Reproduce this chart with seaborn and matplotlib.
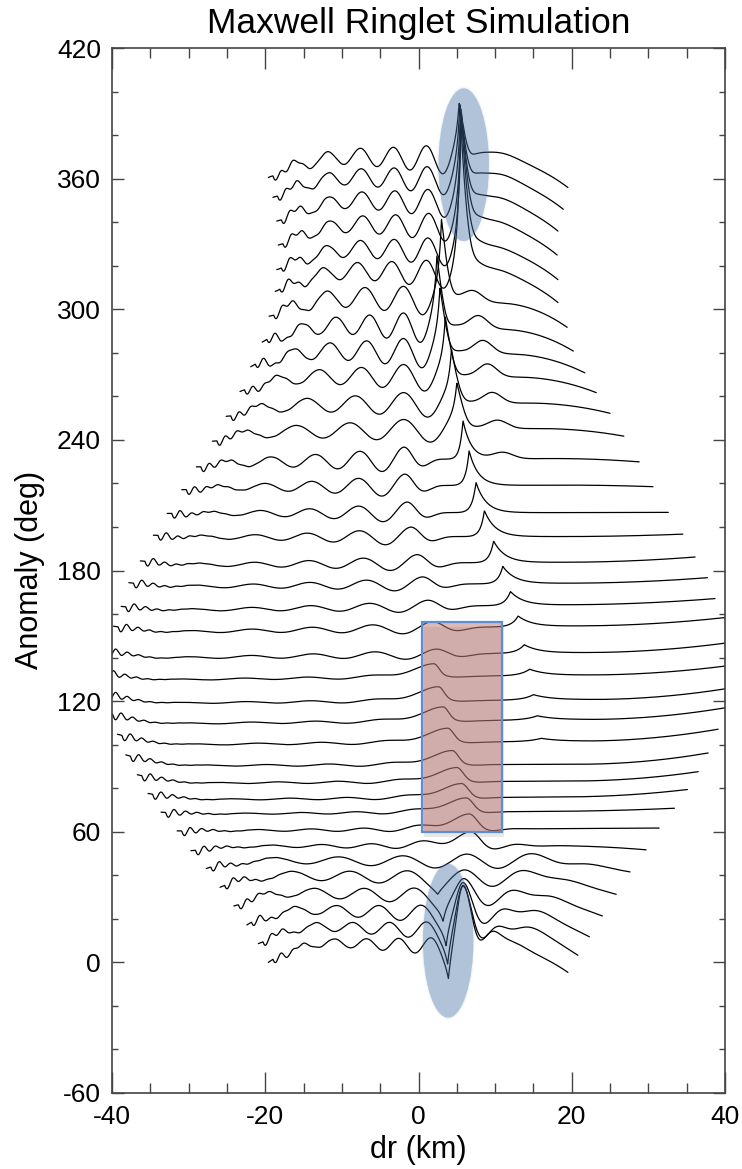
import numpy as np
import pandas as pd
import matplotlib
matplotlib.use("Agg")
import matplotlib.pyplot as plt
import seaborn as sns
from matplotlib.patches import Ellipse, Rectangle
from matplotlib.ticker import MultipleLocator

# ---------------- data ----------------
ANOMALY = [0, 10, 20, 30, 40, 50, 60, 70, 80, 90, 100, 110, 120, 130, 140, 150, 160, 170,
           180, 190, 200, 210, 220, 230, 240, 250, 260, 270, 280, 290, 300, 310, 320, 330,
           340, 350, 360]
X_LEFT = [-19.6, -20.9, -22.4, -24.1, -25.9, -27.7, -29.7, -31.5, -33.6, -35.3, -36.7, -38.2, -39.3,
          -40.5, -41.2, -41.5, -41.2, -39.8, -38.8, -37.8, -36.3, -34.6, -32.8, -30.9, -29.0, -26.9,
          -25.1, -23.3, -21.9, -20.4, -19.5, -18.7, -18.5, -18.3, -18.5, -19.0, -19.6]
X_RIGHT = [19.5, 20.8, 22.3, 24.0, 25.8, 27.6, 29.7, 31.4, 33.4, 35.1, 36.5, 37.8, 39.1, 40.3, 41.0,
           41.3, 41.0, 40.3, 38.7, 37.7, 36.1, 34.5, 32.6, 30.6, 28.8, 26.8, 25.0, 23.2, 21.7, 20.2,
           19.4, 18.2, 18.2, 18.1, 18.2, 18.9, 19.5]
Y_LEFT = [0.0, -1.4, -2.8, -4.1, -5.5, -6.9, -8.7, -9.6, -11.0, -12.4, -13.8, -14.7, -15.2, -15.6,
          -16.1, -16.5, -16.5, -15.6, -16.5, -15.6, -15.6, -13.8, -13.8, -12.9, -12.4, -10.6, -9.2,
          -7.8, -6.4, -5.1, -3.2, -1.8, -1.8, -0.5, 0.5, 1.4, 0.5]
Y_RIGHT = [-4.6, -6.9, -8.3, -8.7, -8.7, -8.3, -8.3, -8.3, -9.2, -10.6, -12.4, -13.8, -12.9, -12.9,
           -13.8, -13.3, -12.9, -11.5, -12.9, -13.3, -13.8, -13.3, -13.3, -11.5, -10.1, -8.3, -7.8,
           -8.3, -9.2, -9.2, -8.3, -6.9, -6.4, -5.1, -4.1, -4.1, -4.1]
HUMP = [10, 9, 8, 7, 6, 4, 2, 0, -1, -3, -4, -5, -5, -5, -5, -4, -4, -3, -2, -2, -2, -1, 0, 1, 2,
        4, 5, 7, 8, 9, 10, 11, 11, 11, 11, 11, 11]
RISE_LEN = [9, 9, 9, 9, 9, 9, 10, 10, 10, 10, 10, 10, 10, 10, 10, 10, 10, 10, 10, 10, 10, 10, 10,
            10, 10, 10, 11, 11, 12, 12, 12, 12, 12, 12, 12, 12, 12]
WAVE_AMP = [5, 5, 5, 4.5, 4, 3.5, 2, 1.5, 1, 1, 1, 1, 1, 1, 1, 1, 2.5, 3, 3, 3.5, 4,
            4.5, 5, 5.5, 6, 6.5, 7, 7.5, 8, 8, 7.5, 7.5, 7.5, 7.5, 7.5, 7.5, 7.5]
WAVE_LEN = [4.2, 4.8, 5.5, 6.5, 7.5, 8.4, 6.5, 6.9, 7.2, 7.5, 7.8, 8.1, 8.3, 8.4, 8.4, 8.3, 8.1,
            7.9, 7.7, 7.4, 7.1, 6.8, 6.4, 6.1, 5.8, 7.0, 6.3, 5.5, 4.8, 4.4, 5.0, 4.5, 4.4, 4.3,
            4.3, 4.3, 4.3]
WAVE_GROW = [4, 4, 4, 4, 4, 3, 3, 3, 3, 3, 3, 3, 3, 3, 3, 3, 2.2, 2.2, 2.2, 2.2, 2.2, 2.2, 2.2,
             2.5, 3, 3.5, 3.5, 3.5, 4, 4, 4.5, 4.5, 4.5, 4.5, 4.5, 4.5, 4.5]
WAVE_X = [5.8, 5.8, 5.8, 5.9, 6.0, 6.3, 6.8, 6.6, 6.2, 5.6, 5.0, 4.4, 3.8, 3.2, 2.6, 2.0, 2.3,
          1.8, 1.2, 0.5, -0.2, -1.0, -1.5, -1.8, -1.9, 5.0, 4.3, 3.5, 2.8, 2.4, 3.0, 5.5, 5.6,
          5.6, 5.5, 5.4, 5.3]
WAVE_RW = [4, 5, 6, 8, 10, 12, 6, 4, 3, 3, 3, 3, 3, 3, 3, 3, 4, 4, 4, 3.5, 3.5, 3.2, 3, 3, 3,
           1.5, 1.5, 1.5, 1.5, 1.5, 1.5, 1.5, 1.5, 1.5, 1.5, 1.5, 1.5]
CUSP_X = [3.9, 3.8, 3.6, 3.2, 2.5, 0, 0, 0, 0, 0, 0, 0, 16.0, 15.5, 15.0, 14.5, 13.8, 13.0, 12.0,
          11.0, 9.8, 8.6, 7.5, 6.6, 5.8, 5.0, 4.3, 3.5, 2.8, 2.4, 3.0, 5.5, 5.6, 5.6, 5.5, 5.4, 5.3]
CUSP_H = [-12, -12, -11, -8, -4, 0, 0, 0, 0, 0, 0, 0, 1.5, 2, 2.5, 3, 4, 5, 6.5, 8, 10, 12, 14,
          16, 18, 15, 18, 20, 22, 25, 30, 63, 54, 45, 36, 27, 18]
CUSP_WL = [0.5, 0.5, 0.55, 0.6, 0.8, 1, 1, 1, 1, 1, 1, 1, 1.5, 1.5, 1.3, 1.2, 1.0, 0.8, 0.7, 0.6,
           0.55, 0.5, 0.5, 0.45, 0.4, 0.4, 0.35, 0.35, 0.35, 0.35, 0.35, 0.35, 0.35, 0.35, 0.35,
           0.35, 0.35]
CUSP_WR = [0.4, 0.4, 0.45, 0.5, 0.8, 1, 1, 1, 1, 1, 1, 1, 2.5, 2.5, 2.4, 2.2, 2.0, 1.8, 1.7, 1.6,
           1.5, 1.4, 1.3, 1.2, 1.1, 1.0, 0.9, 0.9, 0.9, 0.9, 0.9, 0.9, 0.9, 0.9, 0.9, 0.9, 0.9]
PEAK_X = [5.8, 5.8, 5.8, 5.9, 0, 0, 6.8, 6.6, 6.2, 5.6, 5.0, 4.4, 3.8, 3.2, 2.6, 2.0, 0, 0, 0, 0,
          0, 0, 0, 0, 0, 0, 0, 0, 0, 0, 0, 0, 0, 0, 0, 0, 0]
PEAK_H = [22, 16, 10, 4, 0, 0, 4.5, 5.5, 5.5, 5.5, 5.5, 5.5, 5.5, 5.5, 5.5, 5, 0, 0, 0, 0, 0, 0,
          0, 0, 0, 0, 0, 0, 0, 0, 0, 0, 0, 0, 0, 0, 0]
PEAK_SL = [0.8, 0.8, 0.8, 0.8, 1, 1, 3.5, 3.5, 3.5, 3.5, 3.5, 3.5, 3.5, 3.5, 3.5, 3.5, 1, 1, 1,
           1, 1, 1, 1, 1, 1, 1, 1, 1, 1, 1, 1, 1, 1, 1, 1, 1, 1]
PEAK_SR = [1.1, 1.1, 1.1, 1.2, 1, 1, 1.1, 1.0, 0.9, 0.85, 0.8, 0.75, 0.75, 0.7, 0.7, 0.65, 1, 1,
           1, 1, 1, 1, 1, 1, 1, 1, 1, 1, 1, 1, 1, 1, 1, 1, 1, 1, 1]
SHOULDER_X = [10, 14.5, 15, 15.5, 16, 16, 0, 0, 0, 0, 0, 0, 0, 0, 0, 0, 0, 0, 0, 0, 0, 0, 0, 0,
              11.0, 10.3, 9.6, 9.0, 8.4, 7.8, 7.1, 9.5, 9.5, 9.5, 9.8, 10, 10]
SHOULDER_H = [6, 4, 4, 3, 3, 2, 0, 0, 0, 0, 0, 0, 0, 0, 0, 0, 0, 0, 0, 0, 0, 0, 0, 0,
              3, 4, 5, 6, 6, 6, 5, 3, 3, 3.5, 3.5, 4, 4]
SHOULDER_W = [2.5, 2.5, 2.5, 2.5, 2.5, 2.5, 2, 2, 2, 2, 2, 2, 2, 2, 2, 2, 2, 2, 2, 2, 2, 2, 2, 2,
              1.3, 1.3, 1.2, 1.2, 1.2, 1.2, 1.2, 2.5, 2.5, 2.5, 2.5, 2.5, 2.5]
EDGE_AMP = 2.5

X_TICKS = [-40, -20, 0, 20, 40]
Y_TICKS = [-60, 0, 60, 120, 180, 240, 300, 360, 420]


def profile(i, x):
    xl, xr = X_LEFT[i], X_RIGHT[i]
    w = xr - xl
    d = Y_LEFT[i] + (Y_RIGHT[i] - Y_LEFT[i]) * (x - xl) / w
    tl = np.clip((x - xl) / RISE_LEN[i], 0, 1)
    tr = np.clip((xr - x) / (0.22 * w), 0, 1)
    d = d + HUMP[i] * (1 - (1 - tl) ** 2) * (1 - (1 - tr) ** 2)
    lam, xa = WAVE_LEN[i], WAVE_X[i]
    dx = x - xa
    env = np.where(dx < 0, np.exp(np.minimum(dx, 0) / (WAVE_GROW[i] * lam)),
                   np.exp(-(np.maximum(dx, 0) / WAVE_RW[i]) ** 2))
    env = env * np.clip((x - xl) / 3.0, 0, 1)
    d = d + WAVE_AMP[i] * env * np.cos(2 * np.pi * dx / lam)
    de = x - xl - 0.6
    d = d + np.where(de > 0, -EDGE_AMP * np.exp(-np.maximum(de, 0) / 2.2)
                     * np.sin(2 * np.pi * de / 1.5), 0)
    dc = x - CUSP_X[i]
    wc = np.where(dc < 0, CUSP_WL[i], CUSP_WR[i])
    d = d + CUSP_H[i] * np.exp(-np.abs(dc) / wc)
    db = x - PEAK_X[i]
    sb = np.where(db < 0, PEAK_SL[i], PEAK_SR[i])
    d = d + PEAK_H[i] * np.exp(-0.5 * (db / sb) ** 2)
    d = d + SHOULDER_H[i] * np.exp(-0.5 * ((x - SHOULDER_X[i]) / SHOULDER_W[i]) ** 2)
    return ANOMALY[i] + d


frames = []
for i, a in enumerate(ANOMALY):
    x = np.linspace(X_LEFT[i], X_RIGHT[i], 1500)
    frames.append(pd.DataFrame({"dr": x, "anom": profile(i, x), "curve": a}))
df = pd.concat(frames, ignore_index=True)

# ---------------- drawing ----------------
sns.set_style("ticks")
plt.rcParams["font.family"] = ["Liberation Sans", "DejaVu Sans"]
plt.rcParams["text.color"] = "black"

W, H = 742, 1169
fig = plt.figure(figsize=(W / 100, H / 100), dpi=100)
ax = fig.add_axes([112 / W, 1 - 1093 / H, 613 / W, 1045 / H])

sns.lineplot(data=df, x="dr", y="anom", units="curve", estimator=None, sort=False,
             color="black", lw=0.9, legend=False, ax=ax, zorder=2)

blue = (0.275, 0.45, 0.66)
for cx, cy, ew, eh in [(5.9, 366.4, 6.8, 71.6), (3.87, 9.9, 6.8, 72.1)]:
    ax.add_patch(Ellipse((cx, cy), ew * 0.97, eh * 0.98, facecolor=blue, alpha=0.37,
                         edgecolor="none", zorder=3))
    for s in (1.0, 1.03):
        ax.add_patch(Ellipse((cx, cy), ew * s, eh * (0.99 + (s - 1) * 0.5), facecolor=blue,
                             alpha=0.04, edgecolor="none", zorder=3))
ax.add_patch(Rectangle((0.75, 57.8), 10.42, 96.4, facecolor="0.5", alpha=0.18,
                       edgecolor="none", zorder=2.9))
ax.add_patch(Rectangle((0.43, 59.8), 10.42, 96.4, facecolor=(0.73, 0.45, 0.44), alpha=0.5,
                       edgecolor="none", zorder=3))
ax.add_patch(Rectangle((0.43, 59.8), 10.42, 96.4, facecolor="none", edgecolor="#5b8fcf",
                       lw=1.6, zorder=4))

ax.set_xlim(-40, 40)
ax.set_ylim(-60, 420)
ax.set_xticks(X_TICKS)
ax.set_yticks(Y_TICKS)
ax.set_xticklabels([str(v) for v in X_TICKS])
ax.set_yticklabels([str(v) for v in Y_TICKS])
ax.xaxis.set_minor_locator(MultipleLocator(5))
ax.yaxis.set_minor_locator(MultipleLocator(20))
ax.tick_params(axis="both", which="both", direction="in", top=True, right=True,
               color="#444444", width=1.0, labelsize=19, labelcolor="black")
ax.tick_params(axis="x", which="major", length=15, pad=9)
ax.tick_params(axis="x", which="minor", length=7.5)
ax.tick_params(axis="y", which="major", length=8.6, pad=8)
ax.tick_params(axis="y", which="minor", length=4.3)
for s in ax.spines.values():
    s.set_color("#444444")
    s.set_linewidth(1.2)
ax.set_xlabel("")
ax.set_ylabel("")

fig.text(418.5 / W, 1 - 23 / H, "Maxwell Ringlet Simulation", ha="center", va="center",
         fontsize=25.5, color="black")
fig.text(418.5 / W, 1 - 1150 / H, "dr (km)", ha="center", va="center", fontsize=22,
         color="black")
fig.text(30 / W, 1 - 570 / H, "Anomaly (deg)", ha="center", va="center", rotation=90,
         fontsize=22, color="black")

fig.savefig("out.png", dpi=100)
